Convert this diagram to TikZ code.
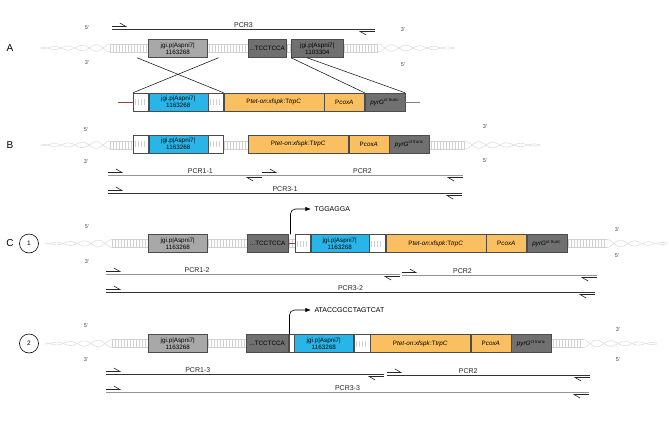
\documentclass[tikz,border=0pt]{standalone}
\usepackage{fontspec}
\setmainfont{Liberation Sans}
\usetikzlibrary{arrows.meta,calc,positioning}
\definecolor{armblue}{RGB}{42,181,232}
\definecolor{cassorange}{RGB}{250,191,96}
\definecolor{armgray}{RGB}{168,168,168}
\definecolor{locusgray}{RGB}{112,112,112}
\definecolor{dnagray}{RGB}{208,208,208}
\definecolor{helixgray}{RGB}{222,222,222}
\definecolor{linkred}{RGB}{150,70,60}

\begin{document}
\begin{tikzpicture}[
    x=1pt,y=-1pt,
    >=Latex,
    font=\fontsize{7}{8}\selectfont,
    box/.style={
      draw=black!70,line width=0.5pt,minimum height=18pt,inner sep=0pt,
      align=center,font=\fontsize{6.3}{6.8}\selectfont
    },
    arm/.style={box,fill=armgray,minimum width=59pt},
    hom/.style={box,fill=armblue,minimum width=59pt},
    locus/.style={box,fill=locusgray},
    cass/.style={box,fill=cassorange},
    spacer/.style={
      box,fill=white,minimum width=15pt,
      path picture={\draw[dnagray,line width=6pt,dash pattern=on 0.8pt off 2.2pt]
        ([xshift=2pt]path picture bounding box.west) -- ([xshift=-2pt]path picture bounding box.east);}
    },
    pcrline/.style={line width=0.8pt,color=black!80},
    pcrgray/.style={pcrline,color=black!42},
    primer/.style={line width=0.6pt,black!85,-{Straight Barb[harpoon,length=6pt,width=7pt]}},
    pcrlab/.style={above,inner sep=1.5pt,text=black!85},
    strandlab/.style={font=\fontsize{5.5}{6}\selectfont,text=black!75},
    seclab/.style={font=\fontsize{10}{12}\selectfont},
    numlab/.style={circle,draw,line width=0.6pt,minimum size=19pt,inner sep=0pt,font=\fontsize{6.5}{7}\selectfont},
    tss/.style={->,line width=0.6pt,rounded corners=5pt},
    helix/.style={helixgray,line width=0.6pt,smooth,samples=60}
  ]
    \useasboundingbox (0,0) rectangle (669,434);

    % DNA backbones
    \foreach \y/\a/\b/\c/\d in {48/40/110/378/455,145/40/110/465/540,243.5/45/112/607/667,343.5/45/112/583/657}{
      \draw[dnagray,line width=8pt,dash pattern=on 0.8pt off 2.2pt] (\b,\y) -- (\c,\y);
      \draw[dnagray,line width=0.5pt] (\b,\y-4) -- (\c,\y-4) (\b,\y+4) -- (\c,\y+4);
      \draw[helix,domain=\a:\b] plot (\x,{\y+(0.8+3.2*(\x-\a)/(\b-\a))*cos(12.86*(\x-\b))});
      \draw[helix,domain=\a:\b] plot (\x,{\y-(0.8+3.2*(\x-\a)/(\b-\a))*cos(12.86*(\x-\b))});
      \draw[helix,domain=\c:\d] plot (\x,{\y+(0.8+3.2*(\d-\x)/(\d-\c))*cos(12.86*(\x-\c))});
      \draw[helix,domain=\c:\d] plot (\x,{\y-(0.8+3.2*(\d-\x)/(\d-\c))*cos(12.86*(\x-\c))});
    }

    % A
    \node[seclab] (secA) at (10,48) {A};
    \node[strandlab] (a5l) at (87,28) {5'};
    \node[strandlab] (a3l) at (87,63) {3'};
    \node[strandlab] (a3r) at (403,30) {3'};
    \node[strandlab] (a5r) at (403,65) {5'};
    \draw[pcrline] (112,29) coordinate (p3a) -- (375,29) coordinate (p3b) node[pcrlab,midway] {PCR3};
    \draw[primer] ([yshift=2.5pt]p3a) -- +(15,0);
    \draw[primer] ([yshift=-2.5pt]p3b) -- +(-16,0);

    \node[arm,anchor=west] (a1) at (148,48.5) {jgi.p|Aspni7|\\1163268};
    \node[locus,anchor=west,minimum width=38pt] (tcc0) at (248,48.5) {...TCCTCCA};
    \node[locus,anchor=west,minimum width=52pt] (a2) at (291,48.5) {jgi.p|Aspni7|\\1103304};

    \node[spacer,anchor=west] (sa1) at (133,102) {};
    \node[hom,right=0pt of sa1] (ha) {jgi.p|Aspni7|\\1163268};
    \node[spacer,right=0pt of ha] (sa2) {};
    \node[cass,minimum width=100pt,right=0pt of sa2] (pa) {P\textit{tet-on}:\textit{xfspk}:T\textit{trpC}};
    \node[cass,minimum width=40pt,right=0pt of pa] (ca) {P\textit{coxA}};
    \node[locus,minimum width=40pt,right=0pt of ca] (ga) {\textit{pyrG}\textsuperscript{ct trunc}};
    \draw[linkred,line width=0.6pt] (sa1.west) -- +(-15,0);
    \draw[black!50,line width=0.6pt] (ga.east) -- +(15,0);

    \draw[line width=0.5pt] ([xshift=-11pt]a1.south west) -- (sa2.north east);
    \draw[line width=0.5pt] ([xshift=11pt]a1.south east) -- (sa1.north west);
    \draw[line width=0.5pt] (a2.south west) -- (ga.north west);
    \draw[line width=0.5pt] ([xshift=16pt]a2.south west) -- (ga.north east);

    % B
    \node[seclab] (secB) at (10,145) {B};
    \node[strandlab] (b5l) at (86,130) {5'};
    \node[strandlab] (b3l) at (86,162) {3'};
    \node[strandlab] (b3r) at (485,127) {3'};
    \node[strandlab] (b5r) at (485,161) {5'};

    \node[spacer,anchor=west] (sb1) at (133,144) {};
    \node[hom,right=0pt of sb1] (hb) {jgi.p|Aspni7|\\1163268};
    \node[spacer,right=0pt of hb] (sb2) {};
    \node[cass,minimum width=100pt,anchor=west] (pb) at (248,144) {P\textit{tet-on}:\textit{xfspk}:T\textit{trpC}};
    \node[cass,minimum width=40pt,right=0pt of pb] (cb) {P\textit{coxA}};
    \node[locus,minimum width=40pt,right=0pt of cb] (gb) {\textit{pyrG}\textsuperscript{ct trunc}};

    \draw[pcrgray] (108,175) coordinate (p11a) -- (262,175) coordinate (p11b) node[pcrlab,pos=0.6] {PCR1-1};
    \draw[primer] ([yshift=2.5pt]p11a) -- +(15,0);
    \draw[primer] ([yshift=-2.5pt]p11b) -- +(-16,0);
    \draw[pcrgray] (262,175) coordinate (p2ba) -- (463,175) coordinate (p2bb) node[pcrlab,midway] {PCR2};
    \draw[primer] ([yshift=2.5pt]p2ba) -- +(15,0);
    \draw[primer] ([yshift=-2.5pt]p2bb) -- +(-16,0);
    \draw[pcrline] (108,193) coordinate (p31a) -- (462,193) coordinate (p31b) node[pcrlab,midway] {PCR3-1};
    \draw[primer] ([yshift=2.5pt]p31a) -- +(15,0);
    \draw[primer] ([yshift=-2.5pt]p31b) -- +(-16,0);

    % C, 1
    \node[seclab] (secC) at (10,243.5) {C};
    \node[numlab] (n1) at (29,243.5) {1};
    \node[strandlab] (c5l) at (87,227) {5'};
    \node[strandlab] (c3l) at (87,262) {3'};
    \node[strandlab] (c3r) at (617,230) {3'};
    \node[strandlab] (c5r) at (617,256) {5'};

    \node[arm,anchor=west] (k1) at (148,243.5) {jgi.p|Aspni7|\\1163268};
    \node[locus,anchor=west,minimum width=41pt] (tcc1) at (247,243.5) {...TCCTCCA};
    \node[spacer,anchor=west] (sc1) at (295,243.5) {};
    \node[hom,minimum width=58pt,right=0pt of sc1] (hc) {jgi.p|Aspni7|\\1163268};
    \node[spacer,minimum width=16pt,right=0pt of hc] (sc2) {};
    \node[cass,minimum width=100pt,right=0pt of sc2] (pc) {P\textit{tet-on}:\textit{xfspk}:T\textit{trpC}};
    \node[cass,minimum width=40pt,right=0pt of pc] (cc) {P\textit{coxA}};
    \node[locus,minimum width=40pt,right=0pt of cc] (gc) {\textit{pyrG}\textsuperscript{ct trunc}};
    \draw[linkred,line width=0.6pt] (tcc1.east) -- (sc1.west);

    \node[anchor=west] (tss1) at (311,209) {TGGAGGA};
    \draw[tss] ([xshift=2pt]tcc1.north east) |- (tss1.west);

    \draw[pcrgray] (106,274) coordinate (p12a) -- (400,274) coordinate (p12b) node[pcrlab,pos=0.31] {PCR1-2};
    \draw[primer] ([yshift=2.5pt]p12a) -- +(15,0);
    \draw[primer] ([yshift=-2.5pt]p12b) -- +(-16,0);
    \draw[pcrgray] (402,275) coordinate (p2ca) -- (597,275) coordinate (p2cb) node[pcrlab,pos=0.31] {PCR2};
    \draw[primer] ([yshift=2.5pt]p2ca) -- +(15,0);
    \draw[primer] ([yshift=-2.5pt]p2cb) -- +(-16,0);
    \draw[pcrline] (106,292) coordinate (p32a) -- (595,292) coordinate (p32b) node[pcrlab,midway] {PCR3-2};
    \draw[primer] ([yshift=2.5pt]p32a) -- +(15,0);
    \draw[primer] ([yshift=-2.5pt]p32b) -- +(-16,0);

    % C, 2
    \node[numlab] (n2) at (29,343.5) {2};
    \node[strandlab] (d5l) at (86,326) {5'};
    \node[strandlab] (d3l) at (86,360) {3'};
    \node[strandlab] (d3r) at (618,330) {3'};
    \node[strandlab] (d5r) at (618,360) {5'};

    \node[arm,anchor=west] (k2) at (148,343.5) {jgi.p|Aspni7|\\1163268};
    \node[locus,anchor=west,minimum width=42pt] (tcc2) at (246,343.5) {...TCCTCCA};
    \node[box,fill=white,minimum width=5pt,right=0pt of tcc2] (sd1) {};
    \node[hom,right=0pt of sd1] (hd) {jgi.p|Aspni7|\\1163268};
    \node[spacer,minimum width=16pt,right=0pt of hd] (sd2) {};
    \node[cass,minimum width=100pt,right=0pt of sd2] (pd) {P\textit{tet-on}:\textit{xfspk}:T\textit{trpC}};
    \node[cass,minimum width=40pt,right=0pt of pd] (cd) {P\textit{coxA}};
    \node[locus,minimum width=40pt,right=0pt of cd] (gd) {\textit{pyrG}\textsuperscript{ct trunc}};

    \node[anchor=west] (tss2) at (311,310) {ATACCGCCTAGTCAT};
    \draw[tss] ([xshift=1pt]tcc2.north east) |- (tss2.west);

    \draw[pcrline] (106,374) coordinate (p13a) -- (384,374) coordinate (p13b) node[pcrlab,pos=0.33] {PCR1-3};
    \draw[primer] ([yshift=2.5pt]p13a) -- +(15,0);
    \draw[primer] ([yshift=-2.5pt]p13b) -- +(-16,0);
    \draw[pcrline] (387,375) coordinate (p2da) -- (590,375) coordinate (p2db) node[pcrlab,pos=0.4] {PCR2};
    \draw[primer] ([yshift=2.5pt]p2da) -- +(15,0);
    \draw[primer] ([yshift=-2.5pt]p2db) -- +(-16,0);
    \draw[pcrgray] (106,392) coordinate (p33a) -- (589,392) coordinate (p33b) node[pcrlab,midway] {PCR3-3};
    \draw[primer] ([yshift=2.5pt]p33a) -- +(15,0);
    \draw[primer] ([yshift=-2.5pt]p33b) -- +(-16,0);
\end{tikzpicture}
\end{document}
